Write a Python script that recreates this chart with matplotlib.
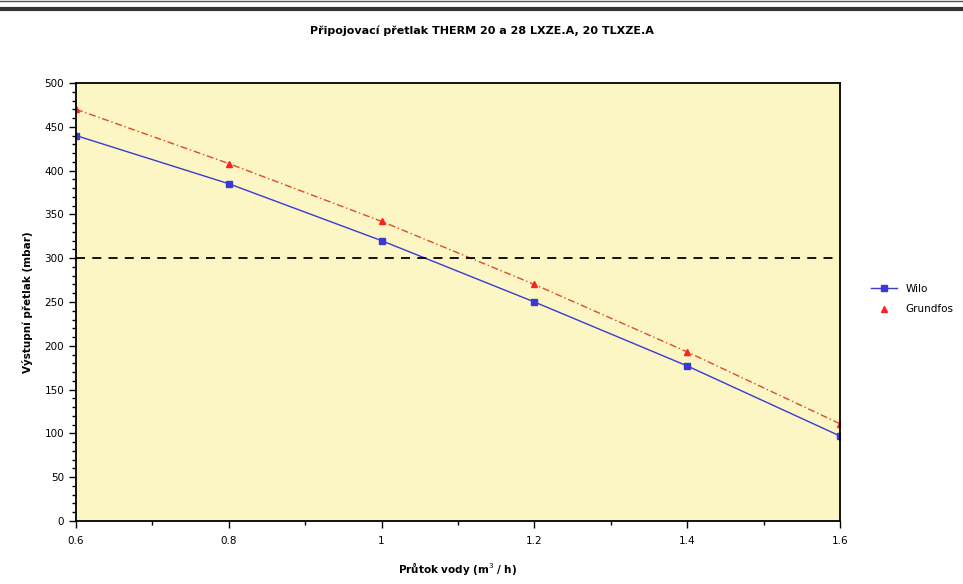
import matplotlib.pyplot as plt
from matplotlib.lines import Line2D
from matplotlib.ticker import MultipleLocator

# prutok vody (m3/h) - kategorie na ose x
prutok = ["0.6", "0.8", "1", "1.2", "1.4", "1.6"]

# vystupni pretlak (mbar)
wilo = [440, 385, 320, 250, 177, 97]
grundfos = [470, 408, 342, 270, 193, 111]

# pozadovany pripojovaci pretlak
limit = 300

fig = plt.figure(figsize=(9.63, 5.84), dpi=100)
ax = fig.add_axes([0.0789, 0.1079, 0.7934, 0.75])
ax.set_facecolor("#fbf6c4")

x = list(range(len(prutok)))
ax.plot(x, wilo, color="#3a3ad0", lw=1.0, marker="s", ms=5, mfc="#3a3ad0", mec="#3a3ad0")
ax.plot(x, grundfos, color="#e04a2a", lw=1.0, ls=(0, (5, 2, 1, 2)), marker="^", ms=5,
        mfc="#ff2020", mec="#ff2020")
ax.axhline(limit, color="black", lw=1.3, ls=(0, (5, 4)))

ax.set_xlim(0, len(prutok) - 1)
ax.set_ylim(0, 500)
ax.set_xticks(x)
ax.set_xticklabels(prutok)
ax.xaxis.set_minor_locator(MultipleLocator(0.5))
ax.yaxis.set_major_locator(MultipleLocator(50))
ax.yaxis.set_minor_locator(MultipleLocator(10))
ax.tick_params(which="both", direction="out", labelsize=7.5, colors="black")
ax.tick_params(which="major", length=5, width=1)
ax.tick_params(which="minor", length=3, width=1)
ax.tick_params(axis="x", pad=6)
for s in ax.spines.values():
    s.set_linewidth(1.3)

ax.set_xlabel("Průtok vody (m$^3$ / h)", fontsize=7.5, fontweight="bold", labelpad=10)
ax.set_ylabel("Výstupní přetlak (mbar)", fontsize=7.5, fontweight="bold", labelpad=8)
fig.text(0.5, 0.948, "Připojovací přetlak THERM 20 a 28 LXZE.A, 20 TLXZE.A",
         ha="center", va="center", fontsize=8, fontweight="bold")

handles = [
    Line2D([], [], color="#3a3ad0", lw=1.0, marker="s", ms=5),
    Line2D([], [], color="none", marker="^", ms=5, mfc="#ff2020", mec="#ff2020"),
]
fig.legend(handles, ["Wilo", "Grundfos"], loc="upper left", bbox_to_anchor=(0.895, 0.53),
           frameon=False, fontsize=7.5, handlelength=2.5, labelspacing=1.0)

# okraj stranky nahore
fig.add_artist(Line2D([0, 1], [0.999, 0.999], color="#555555", lw=1, transform=fig.transFigure))
fig.add_artist(Line2D([0, 1], [0.984, 0.984], color="#333333", lw=3, transform=fig.transFigure))

fig.savefig("out.png", dpi=100)
